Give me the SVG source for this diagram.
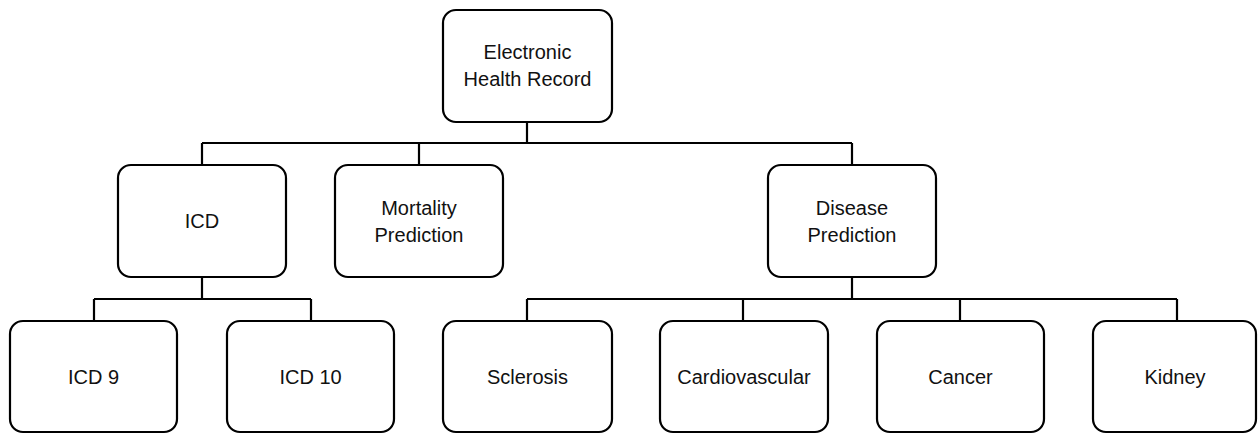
<svg xmlns="http://www.w3.org/2000/svg" width="1258" height="434" viewBox="0 0 1258 434">
<style>
.box{fill:#fff;stroke:#000;stroke-width:2.2}
.lbl{font-family:"Liberation Sans",Arial,sans-serif;font-size:20px;fill:#111;text-anchor:middle}
.con{fill:none;stroke:#000;stroke-width:2.2}
</style>
<rect width="1258" height="434" fill="#fff"/>
<g id="connectors">
<path class="con" d="M527,122 V143 M202,143 H852 M202,143 V165 M419,143 V165 M852,143 V165"/>
<path class="con" d="M202,277 V299 M94,299 H311 M94,299 V321 M311,299 V321"/>
<path class="con" d="M852,277 V299 M527,299 H1177 M527,299 V321 M743,299 V321 M960,299 V321 M1177,299 V321"/>
</g>
<g id="ehr"><rect class="box" x="443" y="10" width="169" height="112" rx="13"/><text class="lbl" x="527.5" y="59">Electronic</text><text class="lbl" x="527.5" y="86">Health Record</text></g>
<g id="icd"><rect class="box" x="118" y="165" width="168" height="112" rx="13"/><text class="lbl" x="202" y="228">ICD</text></g>
<g id="mortality"><rect class="box" x="335" y="165" width="168" height="112" rx="13"/><text class="lbl" x="419" y="215">Mortality</text><text class="lbl" x="419" y="242">Prediction</text></g>
<g id="disease"><rect class="box" x="768" y="165" width="168" height="112" rx="13"/><text class="lbl" x="852" y="215">Disease</text><text class="lbl" x="852" y="242">Prediction</text></g>
<g id="icd9"><rect class="box" x="10" y="321" width="167" height="111" rx="13"/><text class="lbl" x="93.5" y="384">ICD 9</text></g>
<g id="icd10"><rect class="box" x="227" y="321" width="167" height="111" rx="13"/><text class="lbl" x="310.5" y="384">ICD 10</text></g>
<g id="sclerosis"><rect class="box" x="443" y="321" width="169" height="111" rx="13"/><text class="lbl" x="527.5" y="384">Sclerosis</text></g>
<g id="cardio"><rect class="box" x="660" y="321" width="168" height="111" rx="13"/><text class="lbl" x="744" y="384">Cardiovascular</text></g>
<g id="cancer"><rect class="box" x="877" y="321" width="167" height="111" rx="13"/><text class="lbl" x="960.5" y="384">Cancer</text></g>
<g id="kidney"><rect class="box" x="1093" y="321" width="163" height="111" rx="13"/><text class="lbl" x="1175" y="384">Kidney</text></g>
</svg>
